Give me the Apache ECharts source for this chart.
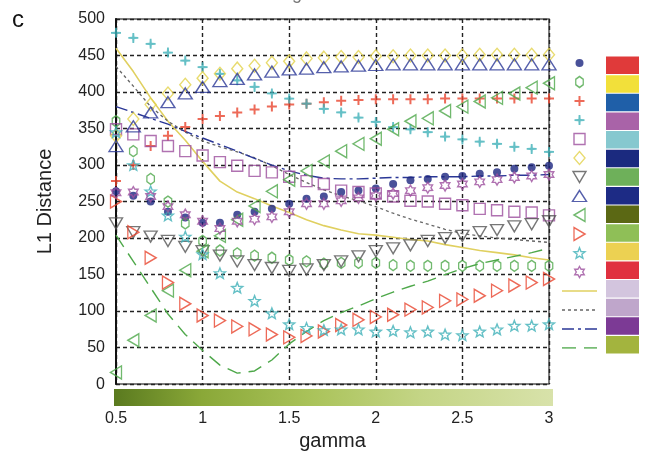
<!DOCTYPE html>
<html>
<head>
<meta charset="utf-8">
<script src="https://cdn.jsdelivr.net/npm/echarts@6/dist/echarts.min.js"></script>
<style>
  html, body { margin: 0; padding: 0; background: #fff; }
  #chart { width: 646px; height: 456px; }
</style>
</head>
<body>
<div id="chart"></div>
<script>
const gamma = [0.5, 0.6, 0.7, 0.8, 0.9, 1.0, 1.1, 1.2, 1.3, 1.4, 1.5, 1.6, 1.7,
  1.8, 1.9, 2.0, 2.1, 2.2, 2.3, 2.4, 2.5, 2.6, 2.7, 2.8, 2.9, 3.0];
const yTicks = [0, 50, 100, 150, 200, 250, 300, 350, 400, 450, 500];
const xTicks = ['0.5', '1', '1.5', '2', '2.5', '3'];

const navyDot = [264, 258, 250, 236, 228, 221, 221, 232, 236, 240, 247, 254, 257, 263, 265, 268, 274, 279, 281, 284, 285, 288, 290, 295, 297, 299];
const greenHex = [360, 319, 281, 250, 220, 196, 183, 179, 176, 173, 170, 168, 165, 166, 166, 166, 163, 162, 162, 162, 162, 162, 162, 162, 162, 162];
const redPlus = [278, 300, 326, 340, 352, 363, 367, 372, 376, 380, 383, 384, 386, 388, 389, 390, 390, 390, 390, 391, 391, 391, 391, 391, 391, 391];
const tealPlus = [481, 474, 466, 454, 443, 434, 425, 416, 407, 398, 391, 384, 377, 372, 365, 359, 352, 349, 345, 339, 335, 332, 329, 325, 322, 318];
const purpleSquare = [349, 342, 333, 326, 319, 313, 304, 299, 292, 290, 284, 278, 274, 265, 263, 261, 257, 251, 250, 247, 245, 240, 238, 236, 235, 231];
const yellowDiamond = [340, 363, 383, 398, 410, 419, 425, 432, 436, 440, 442, 446, 447, 448, 448, 449, 449, 450, 450, 450, 450, 451, 451, 451, 451, 451];
const grayDown = [220, 208, 202, 196, 188, 182, 176, 168, 163, 159, 155, 157, 163, 168, 175, 182, 186, 190, 196, 200, 203, 208, 211, 216, 219, 223];
const navyUp = [326, 353, 372, 386, 398, 407, 415, 418, 424, 428, 431, 432, 434, 435, 436, 437, 438, 438, 438, 438, 438, 438, 438, 438, 438, 438];
const greenLeft = [16, 60, 94, 128, 156, 182, 203, 225, 244, 264, 280, 292, 305, 319, 329, 336, 349, 360, 364, 374, 380, 387, 392, 398, 406, 412];
const redRight = [250, 208, 173, 139, 110, 94, 87, 79, 75, 68, 64, 66, 72, 81, 88, 92, 95, 102, 105, 114, 116, 121, 128, 135, 139, 144];
const tealStar = [345, 300, 264, 231, 202, 178, 152, 132, 114, 97, 82, 77, 74, 75, 75, 72, 73, 71, 72, 68, 67, 72, 75, 80, 80, 82];
const purpleStar = [262, 263, 257, 243, 232, 223, 213, 223, 226, 229, 236, 247, 247, 251, 255, 258, 261, 265, 269, 272, 274, 277, 280, 283, 285, 287];

const yellowLine = [460, 428, 392, 360, 334, 305, 278, 263, 254, 244, 235, 225, 217, 211, 206, 204, 201, 198, 196, 191, 187, 183, 180, 177, 173, 170];
const grayLine = [435, 408, 380, 360, 345, 333, 325, 318, 310, 299, 287, 276, 266, 258, 251, 243, 234, 226, 219, 212, 206, 203, 200, 198, 196, 194];
const navyLine = [380, 372, 364, 356, 346, 337, 328, 319, 309, 300, 292, 286, 282, 281, 281, 282, 283, 283, 284, 284, 284, 285, 285, 286, 286, 287];
const greenLine = [204, 168, 132, 96, 68, 46, 26, 15, 18, 33, 55, 72, 87, 98, 107, 117, 126, 134, 141, 150, 158, 165, 170, 175, 180, 186];

const swatchColors = ['#e03a3a', '#f2e03a', '#1f5fa8', '#a963a8', '#86c8cf', '#1b2a7f', '#6eb05a', '#1d2b85',
  '#5b6814', '#8fbf57', '#ecd152', '#e0313f', '#d3c5de', '#bfa6cb', '#7c3a95', '#a3b43e'];

// symbol shapes
function starPath(n, r1, r2) {
  let d = '';
  for (let k = 0; k < 2 * n; k++) {
    const r = k % 2 ? r2 : r1;
    const a = -Math.PI / 2 + k * Math.PI / n;
    d += (k ? 'L' : 'M') + (10 + r * Math.cos(a)).toFixed(2) + ',' + (10 + r * Math.sin(a)).toFixed(2);
  }
  return 'path://' + d + 'Z';
}
const plusPath = 'path://M3.2,0H4.8V3.2H8V4.8H4.8V8H3.2V4.8H0V3.2H3.2Z';
const thinPlusPath = 'path://M3.3,0H4.7L4.9,3.1L8,3.3V4.7L4.9,4.9L4.7,8H3.3L3.1,4.9L0,4.7V3.3L3.1,3.1Z';
const hexPath = 'path://M5,0L10,3V9L5,12L0,9V3Z';

const markers = [
  { name: 'navyDot', data: navyDot, symbol: 'circle', size: 8, color: '#1c2680', fill: true },
  { name: 'greenHex', data: greenHex, symbol: hexPath, size: [9, 11], color: '#4ea84a' },
  { name: 'redPlus', data: redPlus, symbol: plusPath, size: 10, color: '#e8452e', fill: true },
  { name: 'tealPlus', data: tealPlus, symbol: thinPlusPath, size: 10, color: '#3fb0b8', fill: true },
  { name: 'purpleSquare', data: purpleSquare, symbol: 'rect', size: 11, color: '#9c4f9e' },
  { name: 'yellowDiamond', data: yellowDiamond, symbol: 'diamond', size: [11, 13], color: '#e2d24a' },
  { name: 'grayDown', data: grayDown, symbol: 'triangle', size: [13, 11], rotate: 180, color: '#555555' },
  { name: 'navyUp', data: navyUp, symbol: 'triangle', size: [14, 11], rotate: 0, color: '#2a3796' },
  { name: 'greenLeft', data: greenLeft, symbol: 'triangle', size: [13, 11], rotate: 90, color: '#4ea84a' },
  { name: 'redRight', data: redRight, symbol: 'triangle', size: [13, 11], rotate: -90, color: '#e8452e' },
  { name: 'tealStar', data: tealStar, symbol: starPath(5, 10, 4.3), size: 11, color: '#3fb0b8' },
  { name: 'purpleStar', data: purpleStar, symbol: starPath(6, 10, 5.8), size: 11, color: '#9c4f9e' },
];
const lines = [
  { name: 'yellowLine', data: yellowLine, color: '#e0d060', type: 'solid', width: 1.6 },
  { name: 'grayLine', data: grayLine, color: '#666666', type: [3, 3], width: 1.3 },
  { name: 'navyLine', data: navyLine, color: '#2a3796', type: [12, 4, 3, 4], width: 1.4 },
  { name: 'greenLine', data: greenLine, color: '#4ea84a', type: [14, 8], width: 1.4 },
];

function markerStyle(m) {
  return m.fill
    ? { color: m.color }
    : { color: 'rgba(255,255,255,0)', borderColor: m.color, borderWidth: 1.4 };
}

const series = [];
lines.forEach((l) => {
  series.push({
    name: l.name, type: 'line', symbol: 'none', z: 2,
    data: gamma.map((g, i) => [g, l.data[i]]),
    lineStyle: { color: l.color, type: l.type, width: l.width },
  });
});
markers.forEach((m) => {
  series.push({
    name: m.name, type: 'scatter', z: 3,
    symbol: m.symbol, symbolSize: m.size, symbolRotate: m.rotate || 0, symbolKeepAspect: true,
    data: gamma.map((g, i) => [g, m.data[i]]),
    itemStyle: markerStyle(m),
  });
});
// legend column, drawn on its own little grid
markers.forEach((m, row) => {
  series.push({
    type: 'scatter', xAxisIndex: 1, yAxisIndex: 1, silent: true,
    symbol: m.symbol, symbolSize: m.size, symbolRotate: m.rotate || 0, symbolKeepAspect: true,
    data: [[0, row]], itemStyle: markerStyle(m),
  });
});
lines.forEach((l, k) => {
  const row = markers.length + k;
  series.push({
    type: 'line', xAxisIndex: 1, yAxisIndex: 1, symbol: 'none', silent: true,
    data: [[-1, row], [1, row]],
    lineStyle: { color: l.color, type: l.type, width: l.width },
  });
});
// colour swatches
series.push({
  type: 'bar', xAxisIndex: 2, yAxisIndex: 2, silent: true, barWidth: '94%',
  data: swatchColors.map((c) => ({ value: 1, itemStyle: { color: c } })),
});

const font = "'Liberation Sans', Arial, Helvetica, sans-serif";
const chart = echarts.init(document.getElementById('chart'));
chart.setOption({
  animation: false,
  backgroundColor: '#fff',
  textStyle: { fontFamily: font },
  grid: [
    { left: 116, top: 19, width: 433, height: 368, show: true, borderColor: '#555', borderWidth: 1.5 },
    { left: 562, top: 63, width: 35, height: 285 },
    { left: 606, top: 56, width: 33, height: 298 },
  ],
  xAxis: [
    {
      type: 'value', min: 0.5, max: 3, interval: 0.5,
      name: 'gamma', nameLocation: 'middle', nameGap: 44,
      nameTextStyle: { fontSize: 20, color: '#222', fontFamily: font },
      axisLine: { show: false },
      axisTick: { show: false },
      axisLabel: {
        margin: 26, fontSize: 16, color: '#222', fontFamily: font,
        formatter: (v) => xTicks[Math.round((v - 0.5) / 0.5)],
      },
      splitLine: { lineStyle: { color: '#222', type: [4, 3], width: 1.4 } },
    },
    { type: 'value', gridIndex: 1, min: -1, max: 1, show: false },
    { type: 'value', gridIndex: 2, min: 0, max: 1, show: false },
  ],
  yAxis: [
    {
      type: 'value', min: 0, max: 500, interval: 50,
      name: 'L1 Distance', nameLocation: 'middle', nameGap: 61,
      nameTextStyle: { fontSize: 20, color: '#222', fontFamily: font },
      axisLine: { show: true, lineStyle: { color: '#111', width: 2 } },
      axisTick: { show: false },
      axisLabel: {
        margin: 11, fontSize: 16, color: '#222', fontFamily: font,
        formatter: (v) => (yTicks.indexOf(v) >= 0 ? String(v) : ''),
      },
      splitLine: { lineStyle: { color: '#222', type: [4, 3], width: 1.4 } },
    },
    { type: 'value', gridIndex: 1, min: 0, max: 15, inverse: true, show: false },
    { type: 'category', gridIndex: 2, inverse: true, show: false, data: swatchColors.map((c, i) => 's' + i) },
  ],
  graphic: [
    {
      type: 'rect', left: 114, top: 389, silent: true,
      shape: { width: 439, height: 17 },
      style: {
        fill: new echarts.graphic.LinearGradient(0, 0, 1, 0, [
          { offset: 0, color: '#5a7a1f' },
          { offset: 0.2, color: '#8aa838' },
          { offset: 0.45, color: '#aac35a' },
          { offset: 0.7, color: '#c4d586' },
          { offset: 1, color: '#d8e2aa' },
        ]),
      },
    },
    { type: 'text', left: 12, top: 8, style: { text: 'c', font: '24px ' + font, fill: '#111' } },
    { type: 'text', left: 292, top: -15, style: { text: 'gamma', font: '18px ' + font, fill: '#777' } },
  ],
  series,
});
</script>
</body>
</html>
